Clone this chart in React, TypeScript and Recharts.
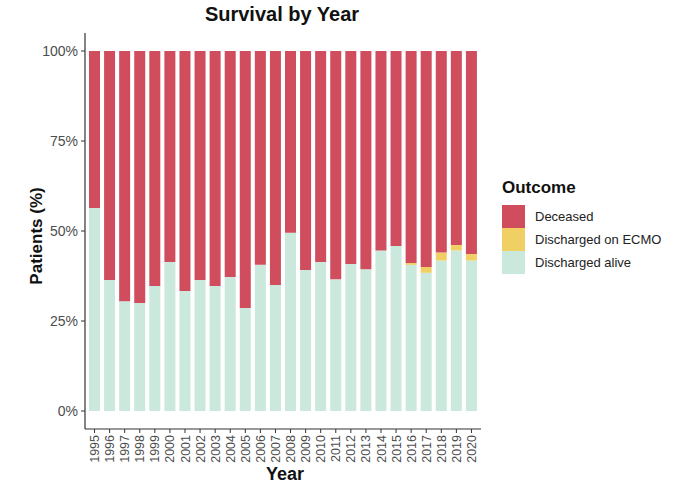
import { BarChart, Bar, XAxis, YAxis, Legend, Label } from "recharts";

const years = [
  "1995", "1996", "1997", "1998", "1999", "2000", "2001", "2002", "2003",
  "2004", "2005", "2006", "2007", "2008", "2009", "2010", "2011", "2012",
  "2013", "2014", "2015", "2016", "2017", "2018", "2019", "2020",
];

const alive = [
  56.4, 36.4, 30.5, 30.0, 34.7, 41.4, 33.3, 36.4, 34.7, 37.2, 28.6, 40.6, 35.0,
  49.5, 39.2, 41.4, 36.6, 40.8, 39.4, 44.6, 45.8, 40.6, 38.4, 41.8, 44.6, 41.8,
];

const onEcmo = [
  0, 0, 0, 0, 0, 0, 0, 0, 0, 0, 0, 0, 0,
  0, 0, 0, 0, 0, 0, 0, 0, 0.5, 1.6, 2.2, 1.5, 1.8,
];

const deceased = [
  43.6, 63.6, 69.5, 70.0, 65.3, 58.6, 66.7, 63.6, 65.3, 62.8, 71.4, 59.4, 65.0,
  50.5, 60.8, 58.6, 63.4, 59.2, 60.6, 55.4, 54.2, 58.9, 60.0, 56.0, 53.9, 56.4,
];

const yTicks = [0, 25, 50, 75, 100];

const outcomes = [
  { key: "deceased", label: "Deceased", color: "#CF4D5D" },
  { key: "ecmo", label: "Discharged on ECMO", color: "#F0D064" },
  { key: "alive", label: "Discharged alive", color: "#CBE8DC" },
];

const data = years.map((year, i) => ({
  year,
  alive: alive[i],
  ecmo: onEcmo[i],
  deceased: deceased[i],
}));

const FONT = "'Liberation Sans', Arial, Helvetica, sans-serif";

function YearTick({ x, y, payload }: any) {
  return (
    <g transform={`translate(${x},${y})`}>
      <text
        x={0}
        y={0}
        dy={4.5}
        textAnchor="end"
        transform="rotate(-90)"
        fill="#4D4D4D"
        fontSize={12.5}
        fontFamily={FONT}
      >
        {payload.value}
      </text>
    </g>
  );
}

function OutcomeLegend() {
  return (
    <div style={{ fontFamily: FONT }}>
      <div
        style={{
          fontSize: 17,
          fontWeight: 700,
          color: "#111",
          lineHeight: "20px",
          marginBottom: 7,
        }}
      >
        Outcome
      </div>
      {outcomes.map((o) => (
        <div
          key={o.key}
          style={{ display: "flex", alignItems: "center", height: 23 }}
        >
          <div style={{ width: 23, height: 23, background: o.color }} />
          <span style={{ marginLeft: 10, fontSize: 13, color: "#222" }}>
            {o.label}
          </span>
        </div>
      ))}
    </div>
  );
}

export default function App() {
  return (
    <div
      style={{
        position: "absolute",
        left: 0,
        top: 0,
        width: 674,
        height: 487,
        background: "#fff",
        fontFamily: FONT,
      }}
    >
      <div
        style={{
          position: "absolute",
          left: 182,
          width: 200,
          top: 3,
          textAlign: "center",
          fontSize: 20,
          fontWeight: 700,
          color: "#111",
        }}
      >
        Survival by Year
      </div>
      <BarChart
        width={674}
        height={487}
        data={data}
        margin={{ top: 33, right: 23, bottom: 0, left: 0 }}
        barSize={11}
      >
        <XAxis
          dataKey="year"
          height={58}
          interval={0}
          padding={{ left: 2, right: 2 }}
          tick={<YearTick />}
          tickSize={4}
          tickMargin={2}
          axisLine={{ stroke: "#333", strokeWidth: 1.2 }}
          tickLine={{ stroke: "#333" }}
        >
          <Label
            content={() => (
              <text
                x={285}
                y={480}
                textAnchor="middle"
                fontSize={18}
                fontWeight={700}
                fill="#111"
                fontFamily={FONT}
              >
                Year
              </text>
            )}
          />
        </XAxis>
        <YAxis
          width={85}
          domain={[-5, 105]}
          ticks={yTicks}
          tickFormatter={(v: number) => `${v}%`}
          tickSize={4}
          tickMargin={3}
          tick={{ fill: "#4D4D4D", fontSize: 14, fontFamily: FONT }}
          axisLine={{ stroke: "#333", strokeWidth: 1.2 }}
          tickLine={{ stroke: "#333" }}
        >
          <Label
            content={() => (
              <text
                x={42}
                y={236}
                textAnchor="middle"
                transform="rotate(-90, 42, 236)"
                fontSize={17}
                fontWeight={700}
                fill="#111"
                fontFamily={FONT}
              >
                Patients (%)
              </text>
            )}
          />
        </YAxis>
        <Legend
          layout="vertical"
          align="right"
          verticalAlign="middle"
          content={() => <OutcomeLegend />}
          wrapperStyle={{ position: "absolute", left: 502, top: 178, width: 170, height: 100 }}
        />
        <Bar dataKey="alive" stackId="a" fill="#CBE8DC" isAnimationActive={false} />
        <Bar dataKey="ecmo" stackId="a" fill="#F0D064" isAnimationActive={false} />
        <Bar dataKey="deceased" stackId="a" fill="#CF4D5D" isAnimationActive={false} />
      </BarChart>
    </div>
  );
}
